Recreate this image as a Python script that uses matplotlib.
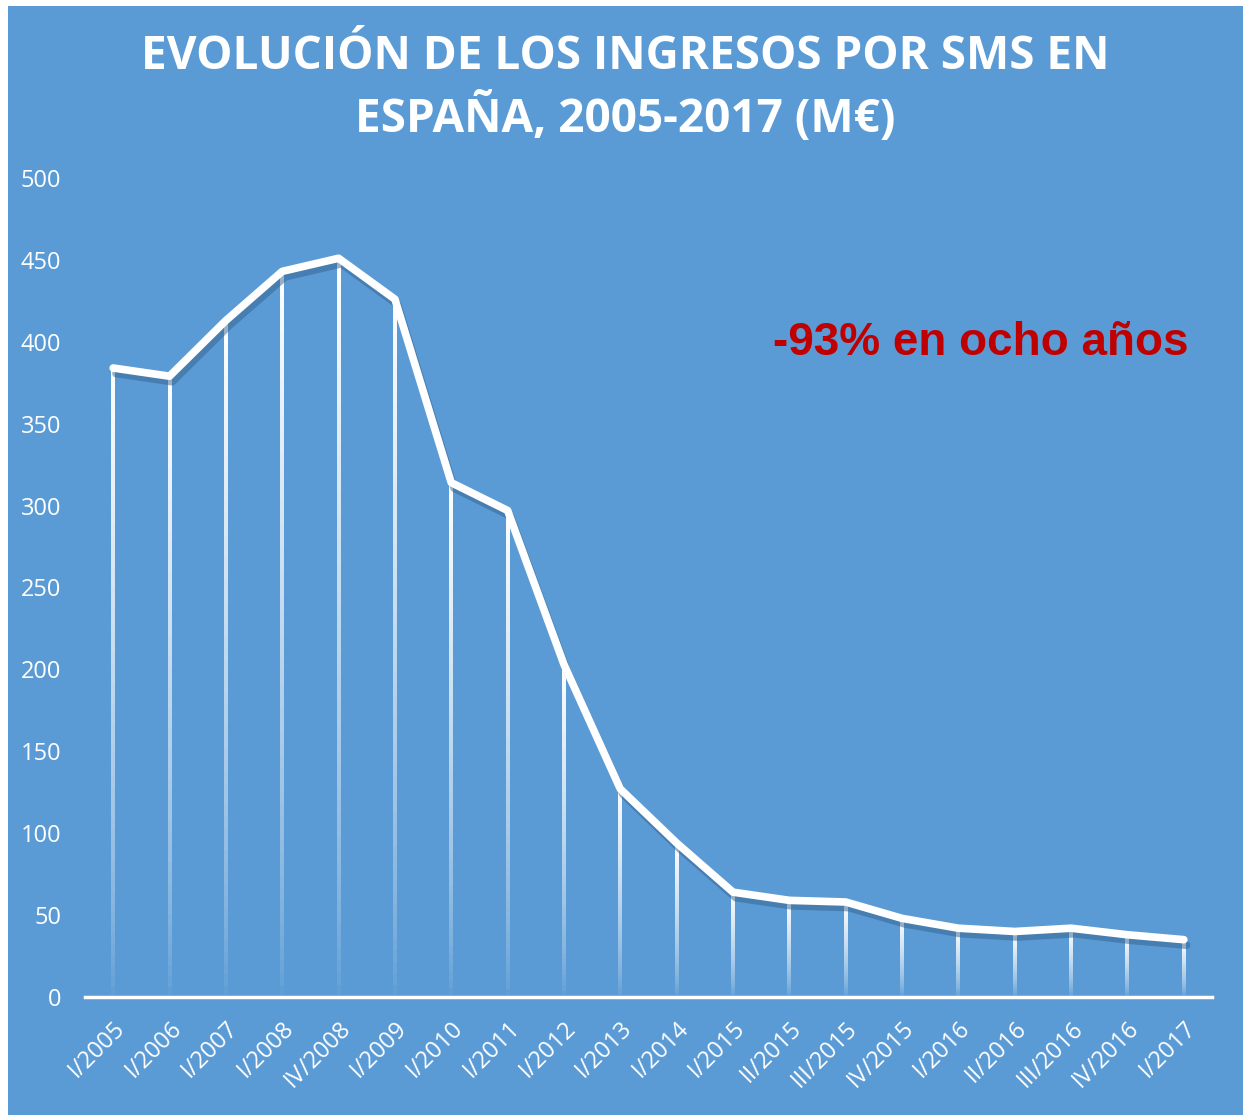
import numpy as np
import matplotlib.pyplot as plt
import matplotlib.patheffects as pe
from matplotlib.collections import LineCollection
from matplotlib.patches import Rectangle

# Data (M EUR)
periods = ['I/2005', 'I/2006', 'I/2007', 'I/2008', 'IV/2008', 'I/2009', 'I/2010',
           'I/2011', 'I/2012', 'I/2013', 'I/2014', 'I/2015', 'II/2015', 'III/2015',
           'IV/2015', 'I/2016', 'II/2016', 'III/2016', 'IV/2016', 'I/2017']
revenue = [384, 379, 413, 443, 451, 426, 314, 297, 203, 127,
           94, 64, 59, 58, 48, 42, 40, 42, 38, 35]
y_ticks = [0, 50, 100, 150, 200, 250, 300, 350, 400, 450, 500]

blue = '#5B9BD5'
fig = plt.figure(figsize=(12.45, 11.15), dpi=100, facecolor='white')
fig.patches.append(Rectangle((8 / 1245, 0), 1235 / 1245, 1 - 6 / 1115,
                             transform=fig.transFigure, facecolor=blue,
                             edgecolor='none', zorder=-10))

ax = fig.add_axes([85 / 1245, 1 - 997 / 1115, 1127 / 1245, 819 / 1115])
ax.set_facecolor('none')
x = np.arange(len(periods))

# drop lines fading towards the bottom
segs, cols = [], []
n = 60
for xi, v in zip(x, revenue):
    ys = np.linspace(0, v, n + 1)
    for k in range(n):
        segs.append([(xi, ys[k]), (xi, ys[k + 1])])
        a = ((k + 0.5) / n) ** 0.7
        cols.append((1, 1, 1, a))
ax.add_collection(LineCollection(segs, colors=cols, linewidths=1.5,
                                 antialiaseds=False, capstyle='butt', zorder=2))

ax.plot(x, revenue, color='white', lw=5.5, solid_capstyle='round',
        solid_joinstyle='round', zorder=3,
        path_effects=[pe.SimpleLineShadow(offset=(2, -4), shadow_color='#35628f',
                                          alpha=0.5),
                      pe.Normal()])

ax.set_xlim(-0.5, len(periods) - 0.5)
ax.set_ylim(0, 500)
ax.set_yticks(y_ticks)
ax.set_xticks(x)
ax.set_xticklabels(periods, rotation=45, ha='right', rotation_mode='anchor')
ax.tick_params(colors='white', labelsize=17, length=0)
for lbl in ax.get_xticklabels() + ax.get_yticklabels():
    lbl.set_fontfamily('Open Sans')
ax.tick_params(axis='x', pad=14)
ax.tick_params(axis='y', pad=17)
for side in ['top', 'right', 'left']:
    ax.spines[side].set_visible(False)
ax.spines['bottom'].set_color('white')
ax.spines['bottom'].set_linewidth(2.5)

fig.text(0.502, 1 - 88 / 1115, 'EVOLUCIÓN DE LOS INGRESOS POR SMS EN\nESPAÑA, 2005-2017 (M€)',
         ha='center', va='center', color='white', fontsize=33, fontweight='bold',
         family='Open Sans', linespacing=1.3)

fig.text(773 / 1245, 1 - 343 / 1115, '-93% en ocho años', ha='left', va='center',
         color='#C00000', fontsize=33, fontweight='bold', family='Liberation Sans')

plt.savefig('out.png', dpi=100, facecolor=fig.get_facecolor())
